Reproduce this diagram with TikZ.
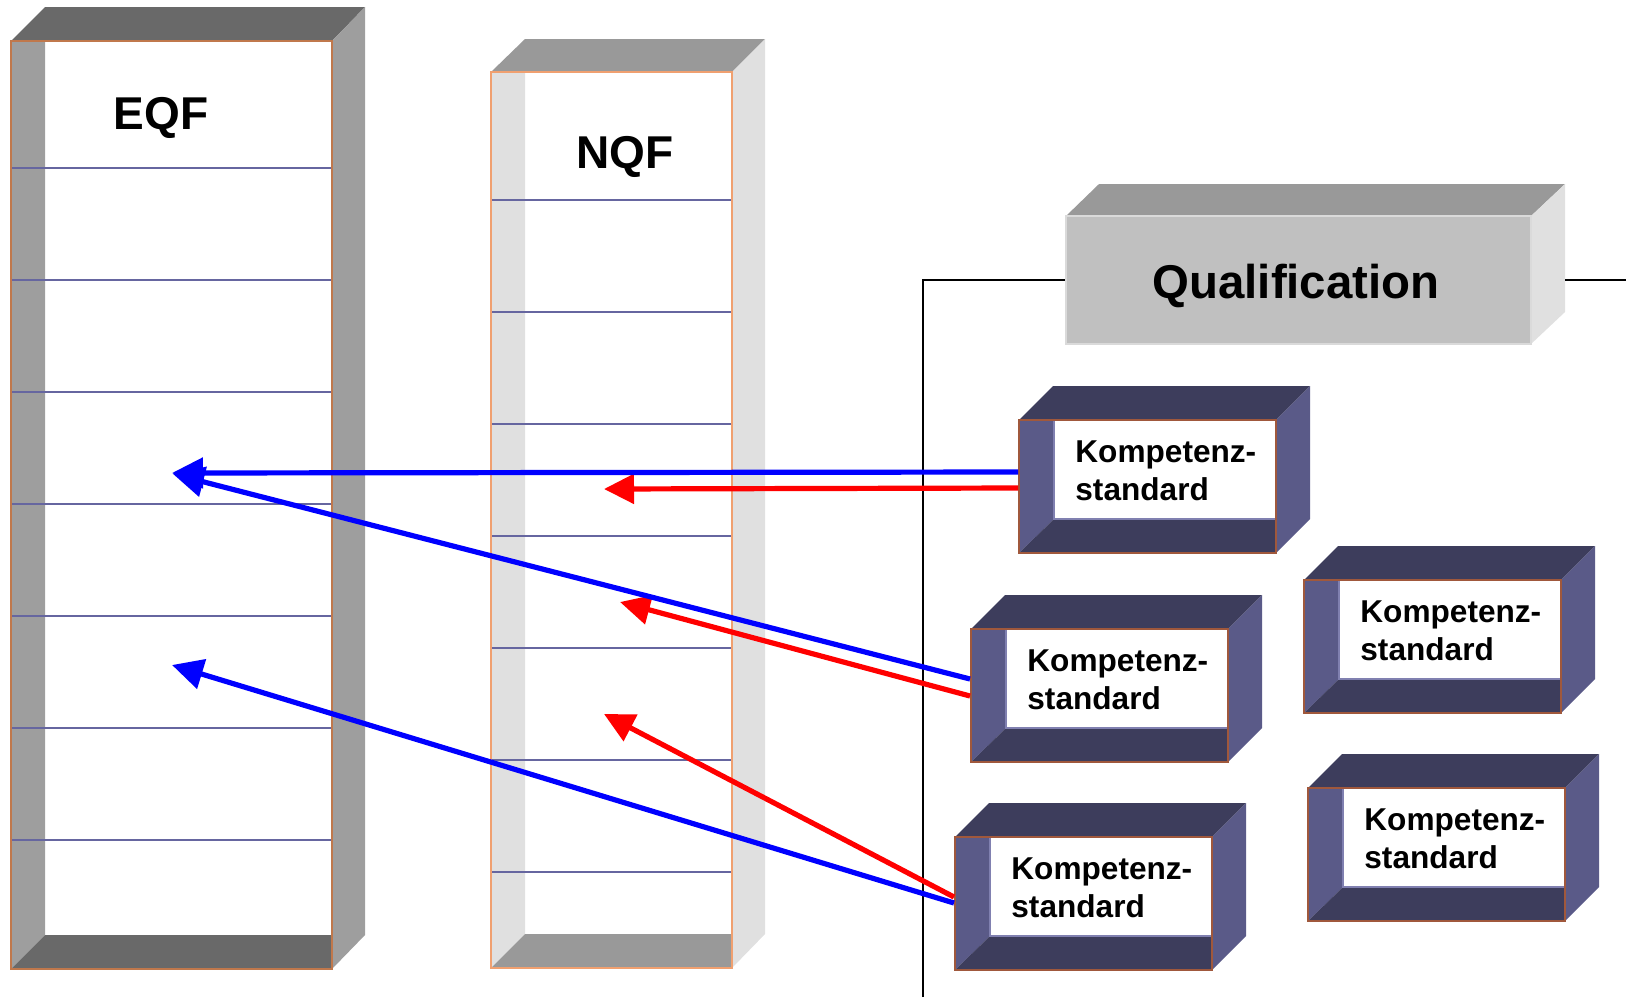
\documentclass[tikz,border=0pt]{standalone}
\usepackage{fontspec}
\setmainfont{Liberation Sans}
\usetikzlibrary{arrows.meta,calc}
\definecolor{eqfdark}{HTML}{696969}
\definecolor{eqfside}{HTML}{9E9E9E}
\definecolor{eqfedge}{HTML}{C0784C}
\definecolor{nqfdark}{HTML}{999999}
\definecolor{nqfside}{HTML}{E0E0E0}
\definecolor{nqfedge}{HTML}{F0A070}
\definecolor{rung}{HTML}{6666A0}
\definecolor{kdark}{HTML}{3D3D5C}
\definecolor{kside}{HTML}{5A5A88}
\definecolor{kedge}{HTML}{A0583C}
\definecolor{kinner}{HTML}{8080B0}
\definecolor{qfront}{HTML}{C0C0C0}
\definecolor{qtop}{HTML}{999999}
\definecolor{qside}{HTML}{E0E0E0}
\tikzset{
  rungline/.style={draw=rung, line width=0.7pt},
  ktext/.style={anchor=base west, inner sep=0pt, font=\fontsize{15.8}{19}\selectfont\bfseries},
  bigtext/.style={anchor=base, inner sep=0pt, font=\fontsize{23}{27}\selectfont\bfseries},
  kfront/.style={draw=kedge, line width=1pt, minimum width=128.5pt, minimum height=66.5pt, inner sep=0pt},
  bluearrow/.style={draw=blue, line width=2.6pt, -{Triangle[length=15.5pt,width=15pt]}},
  redarrow/.style={draw=red, line width=2.6pt, -{Triangle[length=15pt,width=14.5pt]}},
  frameline/.style={draw=black, line width=0.75pt}
}
\newcommand\kbox[3]{%
  \begin{scope}[shift={(#2,#3)}]
    \fill[kdark] (0,0) -- (34,-34) -- (291,-34) -- (257,0) -- cycle;
    \fill[kside] (257,0) -- (291,-34) -- (291,99) -- (257,133) -- cycle;
    \fill[kside] (0,0) -- (35,0) -- (35,99) -- (0,133) -- cycle;
    \fill[kdark] (0,133) -- (35,99) -- (257,99) -- (257,133) -- cycle;
    \draw[kinner, line width=0.8pt, fill=white] (35,0) rectangle (257,99);
    \node[kfront] (#1) at (128.5,66.5) {};
    \node[ktext] at (56,42) {Kompetenz-};
    \node[ktext] at (56,80) {standard};
  \end{scope}}
\begin{document}
\begin{tikzpicture}[x=0.5pt,y=-0.5pt]
\useasboundingbox (0,0) rectangle (1626,997);
% ---------------- EQF column ----------------
\fill[eqfdark] (11,41) -- (45,7) -- (365,7) -- (332,41) -- cycle;
\fill[eqfside] (332,41) -- (365,7) -- (365,935) -- (332,969) -- cycle;
\fill[eqfside] (11,41) -- (45,41) -- (45,935) -- (11,969) -- cycle;
\fill[eqfdark] (11,969) -- (45,935) -- (332,935) -- (332,969) -- cycle;
\foreach \yy in {168,280,392,504,616,728,840} \draw[rungline] (11,\yy) -- (332,\yy);
\node[draw=eqfedge, line width=1pt, minimum width=160.5pt, minimum height=464pt, inner sep=0pt] (eqf) at (171.5,505) {};
\node[bigtext] (eqft) at (161,129) {EQF};
% ---------------- NQF column ----------------
\fill[nqfdark] (491,72) -- (525,39) -- (765,39) -- (732,72) -- cycle;
\fill[nqfside] (732,72) -- (765,39) -- (765,934) -- (732,968) -- cycle;
\fill[nqfside] (491,72) -- (525,72) -- (525,934) -- (491,968) -- cycle;
\fill[nqfdark] (491,968) -- (525,934) -- (732,934) -- (732,968) -- cycle;
\foreach \yy in {200,312,424,536,648,760,872} \draw[rungline] (491,\yy) -- (732,\yy);
\node[draw=nqfedge, line width=1pt, minimum width=120.5pt, minimum height=448pt, inner sep=0pt] (nqf) at (611.5,520) {};
\node[bigtext] (nqft) at (625,168) {NQF};
% ---------------- Qualification ----------------
\fill[qtop] (1066,216) -- (1099,184) -- (1565,184) -- (1531,216) -- cycle;
\fill[qside] (1531,216) -- (1565,184) -- (1565,312) -- (1531,344) -- cycle;
\node[fill=qfront, draw=qside!80!qfront, line width=0.8pt, minimum width=232.5pt, minimum height=64pt, inner sep=0pt] (q) at (1298.5,280) {};
\node[anchor=base, inner sep=0pt, font=\fontsize{23.7}{27}\selectfont\bfseries] (qt) at (1296,298) {Qualification};
\coordinate (qbottom) at (923,997);
\coordinate (qcorner) at (923,280);
\coordinate (qrightstart) at (1565,280);
\coordinate (qright) at (1626,280);
\draw[frameline] (qbottom) -- (qcorner) -- (q.west |- qcorner);
\draw[frameline] (qrightstart) -- (qright);
% ---------------- Kompetenz boxes ----------------
\kbox{k1}{1019}{420}
\kbox{k3}{1304}{580}
\kbox{k2}{971}{629}
\kbox{k5}{1308}{788}
\kbox{k4}{955}{837}
% ---------------- arrows ----------------
\coordinate (e1) at (172,473);
\coordinate (e2) at (173,474);
\coordinate (e3) at (172,665);
\coordinate (n1) at (604,489);
\coordinate (n2) at (620,602);
\coordinate (n3) at (604,714);
\coordinate (s1b) at ($(k1.north west)+(0,53)$);
\coordinate (s1r) at ($(k1.north west)+(0,69)$);
\coordinate (s2b) at ($(k2.north west)+(0,51)$);
\coordinate (s2r) at ($(k2.north west)+(0,68)$);
\coordinate (s4b) at ($(k4.north west)+(0,67)$);
\coordinate (s4r) at ($(k4.north west)+(0,61)$);
\draw[redarrow] (s1r) -- (n1);
\draw[redarrow] (s2r) -- (n2);
\draw[redarrow] (s4r) -- (n3);
\draw[bluearrow] (s1b) -- (e1);
\draw[bluearrow] (s2b) -- (e2);
\draw[bluearrow] (s4b) -- (e3);
\end{tikzpicture}
\end{document}
